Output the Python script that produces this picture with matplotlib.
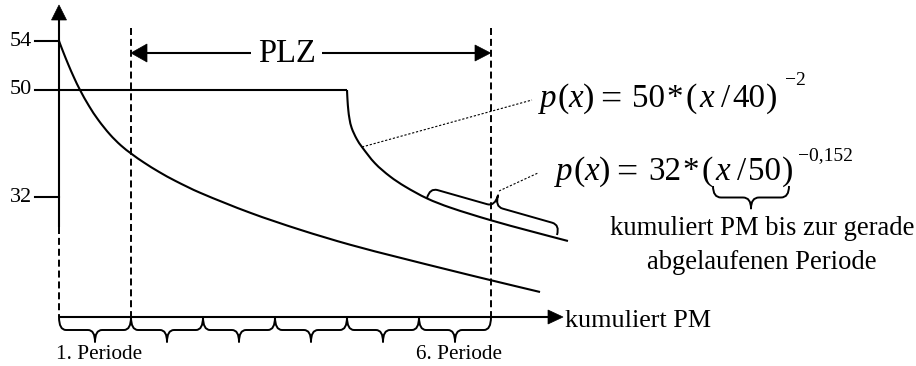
import numpy as np
import matplotlib
matplotlib.use("Agg")
import matplotlib.pyplot as plt
from matplotlib.path import Path
from matplotlib.patches import PathPatch, Polygon

plt.rcParams['font.family'] = ['Liberation Serif', 'DejaVu Serif']

# ---------------- data (x in periods of cumulative PM, y schematic height) -------------
period_bounds = [0, 1, 2, 3, 4, 5, 6]
period_labels = ["1. Periode", "", "", "", "", "6. Periode"]
y_tick_pos = [276, 227, 120]
y_tick_labels = ["54", "50", "32"]

lower_x = [0.0, 0.056, 0.129, 0.208, 0.292, 0.417, 0.546, 0.708, 0.861, 1.010,
           1.181, 1.389, 1.611, 1.958, 2.653, 3.347, 4.042, 4.736, 5.431, 5.986, 6.681]
lower_y = [276, 265.5, 252.5, 239.5, 227, 211, 197, 182.5, 171.5, 163,
           154.4, 145.1, 136.3, 124.3, 104.3, 87.3, 72.3, 59.3, 46.8, 37, 25]

upper_x = [0.0, 4.000, 4.007, 4.018, 4.035, 4.065, 4.135, 4.208, 4.389, 4.597,
           4.806, 5.111, 5.431, 5.986, 6.542, 7.069]
upper_y = [227, 227, 217, 207, 198, 189, 178, 170, 153.7, 140.6,
           130.5, 118.6, 109.5, 97, 86, 76]
upper_kink = 1  # index where the flat price segment ends

# formula parts: p(x) = A*(x/B)^E
formula1 = ("p", "(", "x", ")", "=", "50", "*", "(", "x", "/", "40", ")", "\u22122")
formula2 = ("p", "(", "x", ")", "=", "32", "*", "(", "x", "/", "50", ")", "\u22120,152")
plz_label = "PLZ"
x_label = "kumuliert PM"
note_lines = ["kumuliert PM bis zur gerade", "abgelaufenen Periode"]

# ---------------- layout helpers ----------------
W, H = 916, 366
X0, PW, Y0 = 59.0, 72.0, 317.0   # origin pixel and pixels per period


def P(px, py):
    """pixel (top-left origin) -> data coordinates"""
    return ((px - X0) / PW, Y0 - py)


def to_px(x, y):
    return np.column_stack([X0 + np.asarray(x, float) * PW, Y0 - np.asarray(y, float)])


fig = plt.figure(figsize=(W / 100, H / 100), dpi=100)
ax = fig.add_axes([0, 0, 1, 1])
ax.set_xlim(P(0, 0)[0], P(W, 0)[0])
ax.set_ylim(P(0, H)[1], P(0, 0)[1])
ax.axis('off')

LW = 1.5
K = 'black'


def seg(p, q, **kw):
    a, b = P(*p), P(*q)
    ax.plot([a[0], b[0]], [a[1], b[1]], color=K, solid_capstyle='butt', **kw)


def tri(pts):
    ax.add_patch(Polygon([P(*p) for p in pts], closed=True, facecolor=K,
                         edgecolor=K, lw=0.5))


def smooth_curve(x, y, lw=LW):
    """draw a smooth path through the given points (cubic Bezier segments)"""
    pts = to_px(x, y)
    n = len(pts)
    tang = []
    for i in range(n):
        a = pts[max(i - 1, 0)]
        b = pts[min(i + 1, n - 1)]
        d = b - a
        tang.append(d / np.hypot(*d))
    verts = [P(*pts[0])]
    codes = [Path.MOVETO]
    for i in range(n - 1):
        L = np.hypot(*(pts[i + 1] - pts[i])) / 3.0
        c1 = pts[i] + tang[i] * L
        c2 = pts[i + 1] - tang[i + 1] * L
        verts += [P(*c1), P(*c2), P(*pts[i + 1])]
        codes += [Path.CURVE4] * 3
    ax.add_patch(PathPatch(Path(verts, codes), facecolor='none', edgecolor=K,
                           lw=lw, capstyle='butt'))


def brace(p0, p1, hf, ht, r, side=1, lw=LW):
    p0 = np.array(p0, float)
    p1 = np.array(p1, float)
    d = p1 - p0
    L = np.hypot(*d)
    u = d / L
    n = side * np.array([-u[1], u[0]])
    loc = [(0, 0), (0, hf), (r, hf), (L / 2 - r, hf), (L / 2, hf), (L / 2, ht),
           (L / 2, hf), (L / 2 + r, hf), (L - r, hf), (L, hf), (L, 0)]
    codes = [Path.MOVETO, Path.CURVE3, Path.CURVE3, Path.LINETO, Path.CURVE3,
             Path.CURVE3, Path.CURVE3, Path.CURVE3, Path.LINETO, Path.CURVE3,
             Path.CURVE3]
    verts = [P(*(p0 + a * u + b * n)) for a, b in loc]
    ax.add_patch(PathPatch(Path(verts, codes), facecolor='none', edgecolor=K,
                           lw=lw, capstyle='butt', joinstyle='round'))


# offsets (px from left of "p"), style, size, baseline shift
F_OFF = [0, 17.5, 28, 42.5, 60, 92, 126, 146, 159, 181, 192, 226]
F_STY = ['italic', 'normal', 'italic', 'normal', 'normal', 'normal', 'normal',
         'normal', 'italic', 'normal', 'normal', 'normal']
F_SIZE = [23.8, 24.5, 23.8, 24.5, 27, 23.8, 23.8, 24.5, 23.8, 23.8, 23.8, 24.5]
F_DY = [0, 0, 0, 0, 3, 0, 0, 0, 0, 0, 0, 0]


def formula(parts, x0, base, sup_dx, sup_dy):
    for s, dx, st, sz, dy in zip(parts[:-1], F_OFF, F_STY, F_SIZE, F_DY):
        ax.text(*P(x0 + dx, base + dy), s, fontsize=sz, fontstyle=st,
                ha='left', va='baseline')
    ax.text(*P(x0 + sup_dx, base - sup_dy), parts[-1], fontsize=14,
            ha='left', va='baseline')


# ---------------- axes ----------------
seg((X0, 19), (X0, 227), lw=LW)
tri([(X0, 5), (X0 - 7.5, 20), (X0 + 7.5, 20)])
seg((X0, Y0), (549, Y0), lw=LW)
tri([(563, Y0), (548, Y0 - 7), (548, Y0 + 7)])
ax.text(*P(565, 327), x_label, fontsize=18.8, ha='left', va='baseline')

for pos, lab in zip(y_tick_pos, y_tick_labels):
    ax.plot([P(35, 0)[0], 0], [pos, pos], color=K, lw=LW)
    ax.text(P(32, 0)[0], pos, lab, fontsize=16, ha='right', va='center')

dash = dict(color=K, lw=1.4, linestyle=(0, (3.6, 2.0)))
ax.plot([0, 0], [Y0 - 227, 0], **dash)
ax.plot([1, 1], [Y0 - 28, 0], **dash)
ax.plot([6, 6], [Y0 - 28, 0], **dash)

for i in range(len(period_bounds) - 1):
    xa = X0 + period_bounds[i] * PW
    xb = X0 + period_bounds[i + 1] * PW
    brace((xa, Y0), (xb, Y0), 13, 25, 7, side=1, lw=1.4)
    if period_labels[i]:
        ax.text((period_bounds[i] + period_bounds[i + 1]) / 2 + 0.05, Y0 - 359,
                period_labels[i], fontsize=15.3, ha='center', va='baseline')

# PLZ arrow
ax.text(*P(287, 62), plz_label, fontsize=23.5, ha='center', va='baseline')
seg((146, 53), (251, 53), lw=LW)
tri([(131, 53), (147, 44), (147, 62)])
seg((322, 53), (476, 53), lw=LW)
tri([(490.5, 53), (475, 45), (475, 61)])

# curves
smooth_curve(lower_x, lower_y)
ax.plot(upper_x[:upper_kink + 1], upper_y[:upper_kink + 1], color=K, lw=LW,
        solid_capstyle='butt')
smooth_curve(upper_x[upper_kink:], upper_y[upper_kink:])

# brace along the upper curve
brace((427, 198), (557, 235), 10.5, 22, 8, side=-1, lw=1.4)

# leader lines
lead = dict(color=K, lw=0.8, linestyle=(0, (2, 1.6)))
a, b = P(362, 147), P(532, 100)
ax.plot([a[0], b[0]], [a[1], b[1]], **lead)
a, b = P(499, 191), P(538, 173)
ax.plot([a[0], b[0]], [a[1], b[1]], **lead)

# formulas
formula(formula1, 540, 107, 245, 22)
formula(formula2, 556, 180, 242, 20)
brace((713, 186), (789, 186), 11.5, 22.5, 8, side=1, lw=1.4)

ax.text(*P(762, 235), note_lines[0], fontsize=19.2, ha='center', va='baseline')
ax.text(*P(762, 269), note_lines[1], fontsize=19.2, ha='center', va='baseline')

fig.savefig("out.png", dpi=100)
